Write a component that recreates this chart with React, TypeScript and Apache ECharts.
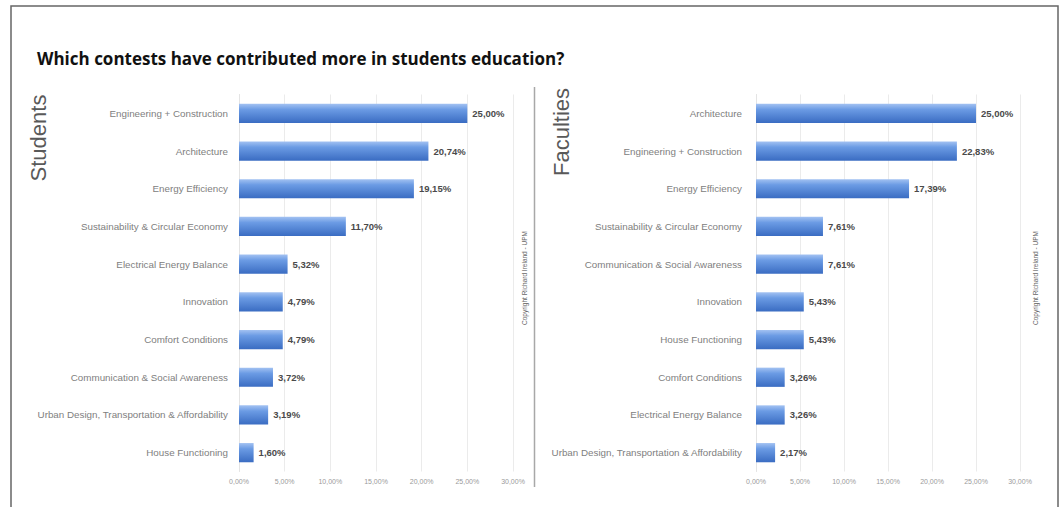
import React, { useEffect, useRef } from "react";
import * as echarts from "echarts";

const titleText = "Which contests have contributed more in students education?";
const leftLabel = "Students";
const rightLabel = "Faculties";
const copyrightText = "Copyright Richard Ireland - UPM";

const studentCategories = [
  "Engineering + Construction",
  "Architecture",
  "Energy Efficiency",
  "Sustainability & Circular Economy",
  "Electrical Energy Balance",
  "Innovation",
  "Comfort Conditions",
  "Communication & Social Awareness",
  "Urban Design, Transportation & Affordability",
  "House Functioning",
];
const studentValues = [25.0, 20.74, 19.15, 11.7, 5.32, 4.79, 4.79, 3.72, 3.19, 1.6];

const facultyCategories = [
  "Architecture",
  "Engineering + Construction",
  "Energy Efficiency",
  "Sustainability & Circular Economy",
  "Communication & Social Awareness",
  "Innovation",
  "House Functioning",
  "Comfort Conditions",
  "Electrical Energy Balance",
  "Urban Design, Transportation & Affordability",
];
const facultyValues = [25.0, 22.83, 17.39, 7.61, 7.61, 5.43, 5.43, 3.26, 3.26, 2.17];

const axisMin = 0;
const axisMax = 30;
const axisInterval = 5;

const fmt = (v: number) => v.toFixed(2).replace(".", ",") + "%";

const FONT = "Liberation Sans, Arial, sans-serif";

const barGradient = () =>
  new echarts.graphic.LinearGradient(0, 0, 0, 1, [
    { offset: 0, color: "#a3c2f2" },
    { offset: 0.3, color: "#6b9be4" },
    { offset: 1, color: "#3a6cc2" },
  ]);

export default function App() {
  const ref = useRef<HTMLDivElement>(null);
  useEffect(() => {
    document.body.style.margin = "0";
    const chart = echarts.init(ref.current!, undefined, { renderer: "svg" });
    const xAxisCommon = {
      type: "value",
      min: axisMin,
      max: axisMax,
      interval: axisInterval,
      axisLine: { show: false },
      axisTick: { show: false },
      axisLabel: {
        formatter: (v: number) => fmt(v),
        fontSize: 7,
        color: "#9a9a9a",
        fontFamily: FONT,
        margin: 6,
      },
      splitLine: { show: true, lineStyle: { color: "#ebebeb", width: 1 } },
    };
    const yAxisCommon = {
      type: "category",
      inverse: true,
      axisLine: { show: true, lineStyle: { color: "#e4e4e4" } },
      axisTick: { show: false },
      axisLabel: { fontSize: 9.8, color: "#808080", fontFamily: FONT },
    };
    const seriesCommon = {
      type: "bar",
      barWidth: "51%",
      itemStyle: { color: barGradient() },
      label: {
        show: true,
        position: "right",
        distance: 5,
        formatter: (p: any) => fmt(p.value),
        fontSize: 9.5,
        fontWeight: "bold",
        color: "#4a4a4a",
        fontFamily: FONT,
      },
    };
    chart.setOption({
      animation: false,
      backgroundColor: "#ffffff",
      grid: [
        { left: 239, right: 1062 - 513, top: 94.5, height: 377 },
        { left: 756, right: 1062 - 1020, top: 94.5, height: 377 },
      ],
      xAxis: [
        { ...xAxisCommon, gridIndex: 0 },
        { ...xAxisCommon, gridIndex: 1 },
      ],
      yAxis: [
        {
          ...yAxisCommon,
          gridIndex: 0,
          data: studentCategories,
          axisLabel: { ...yAxisCommon.axisLabel, margin: 11 },
        },
        {
          ...yAxisCommon,
          gridIndex: 1,
          data: facultyCategories,
          axisLabel: { ...yAxisCommon.axisLabel, margin: 14 },
        },
      ],
      series: [
        { ...seriesCommon, xAxisIndex: 0, yAxisIndex: 0, data: studentValues },
        { ...seriesCommon, xAxisIndex: 1, yAxisIndex: 1, data: facultyValues },
      ],
      graphic: [
        {
          type: "rect",
          shape: { x: 11, y: 6, width: 1047, height: 540 },
          style: { fill: "none", stroke: "#666666", lineWidth: 1.5 },
          silent: true,
        },
        {
          type: "line",
          shape: { x1: 534.5, y1: 87, x2: 534.5, y2: 487 },
          style: { stroke: "#a8a8a8", lineWidth: 1.5 },
          silent: true,
        },
        {
          type: "text",
          x: 37,
          y: 58,
          style: {
            text: titleText,
            font: "bold 17px 'Open Sans', sans-serif",
            fill: "#111111",
            textVerticalAlign: "middle",
          },
        },
        {
          type: "text",
          x: 38,
          y: 138,
          rotation: Math.PI / 2,
          style: {
            text: leftLabel,
            font: "22px 'Liberation Sans', sans-serif",
            fill: "#595959",
            textAlign: "center",
            textVerticalAlign: "middle",
          },
        },
        {
          type: "text",
          x: 561,
          y: 132,
          rotation: Math.PI / 2,
          style: {
            text: rightLabel,
            font: "22px 'Liberation Sans', sans-serif",
            fill: "#595959",
            textAlign: "center",
            textVerticalAlign: "middle",
          },
        },
        {
          type: "text",
          x: 524,
          y: 278,
          rotation: Math.PI / 2,
          style: {
            text: copyrightText,
            font: "6.5px 'Liberation Sans', sans-serif",
            fill: "#666666",
            textAlign: "center",
            textVerticalAlign: "middle",
          },
        },
        {
          type: "text",
          x: 1035,
          y: 278,
          rotation: Math.PI / 2,
          style: {
            text: copyrightText,
            font: "6.5px 'Liberation Sans', sans-serif",
            fill: "#666666",
            textAlign: "center",
            textVerticalAlign: "middle",
          },
        },
      ],
    });
    return () => chart.dispose();
  }, []);
  return <div ref={ref} style={{ width: 1062, height: 507 }} />;
}
